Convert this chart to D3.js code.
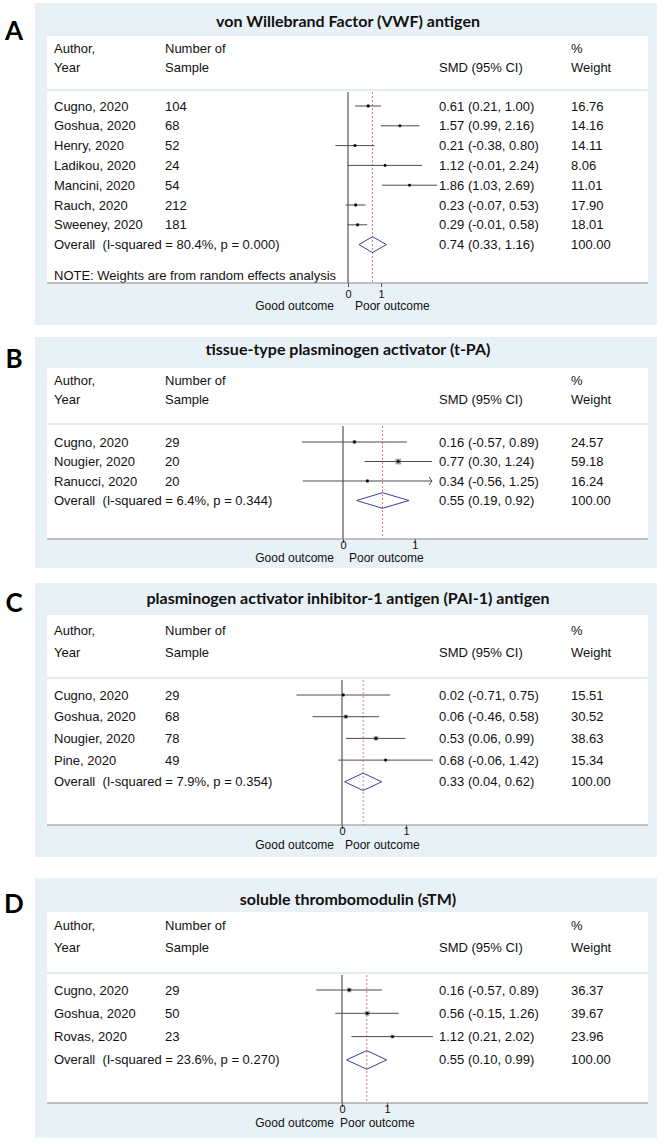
<!DOCTYPE html>
<html><head><meta charset="utf-8">
<script src="https://cdn.jsdelivr.net/npm/d3@7"></script>
<style>
body{margin:0;background:#fff}
</style>
</head><body>
<svg id="chart" width="664" height="1144"></svg>
<script>
// ---------- DATA ----------
// Panel A: von Willebrand Factor (VWF) antigen
const vwfStudies = ["Cugno, 2020","Goshua, 2020","Henry, 2020","Ladikou, 2020","Mancini, 2020","Rauch, 2020","Sweeney, 2020"];
const vwfN   = [104, 68, 52, 24, 54, 212, 181];
const vwfSMD = [0.61, 1.57, 0.21, 1.12, 1.86, 0.23, 0.29];
const vwfLo  = [0.21, 0.99, -0.38, -0.01, 1.03, -0.07, -0.01];
const vwfHi  = [1.00, 2.16, 0.80, 2.24, 2.69, 0.53, 0.58];
const vwfW   = [16.76, 14.16, 14.11, 8.06, 11.01, 17.90, 18.01];
const vwfOverall = [0.74, 0.33, 1.16];
const vwfHet = "80.4%";  const vwfP = "0.000";
const vwfXLim = [-2.69, 2.69];

// Panel B: tissue-type plasminogen activator (t-PA)
const tpaStudies = ["Cugno, 2020","Nougier, 2020","Ranucci, 2020"];
const tpaN   = [29, 20, 20];
const tpaSMD = [0.16, 0.77, 0.34];
const tpaLo  = [-0.57, 0.30, -0.56];
const tpaHi  = [0.89, 1.24, 1.25];
const tpaW   = [24.57, 59.18, 16.24];
const tpaOverall = [0.55, 0.19, 0.92];
const tpaHet = "6.4%";  const tpaP = "0.344";
const tpaXLim = [-1.24, 1.24];

// Panel C: plasminogen activator inhibitor-1 antigen (PAI-1) antigen
const paiStudies = ["Cugno, 2020","Goshua, 2020","Nougier, 2020","Pine, 2020"];
const paiN   = [29, 68, 78, 49];
const paiSMD = [0.02, 0.06, 0.53, 0.68];
const paiLo  = [-0.71, -0.46, 0.06, -0.06];
const paiHi  = [0.75, 0.58, 0.99, 1.42];
const paiW   = [15.51, 30.52, 38.63, 15.34];
const paiOverall = [0.33, 0.04, 0.62];
const paiHet = "7.9%";  const paiP = "0.354";
const paiXLim = [-1.42, 1.42];

// Panel D: soluble thrombomodulin (sTM)
const stmStudies = ["Cugno, 2020","Goshua, 2020","Rovas, 2020"];
const stmN   = [29, 50, 23];
const stmSMD = [0.16, 0.56, 1.12];
const stmLo  = [-0.57, -0.15, 0.21];
const stmHi  = [0.89, 1.26, 2.02];
const stmW   = [36.37, 39.67, 23.96];
const stmOverall = [0.55, 0.10, 0.99];
const stmHet = "23.6%";  const stmP = "0.270";
const stmXLim = [-2.02, 2.02];

const tickValues = [0, 1];
const headerLine1 = ["Author,", "Number of", "", "%"];
const headerLine2 = ["Year", "Sample", "SMD (95% CI)", "Weight"];
const outcomeLabels = ["Good outcome", "Poor outcome"];
const noteText = "NOTE: Weights are from random effects analysis";

// ---------- PANELS (data + layout) ----------
const panels = [
  {label:"A", title:"von Willebrand Factor (VWF) antigen",
   studies:vwfStudies, n:vwfN, est:vwfSMD, lo:vwfLo, hi:vwfHi, w:vwfW, overall:vwfOverall, het:vwfHet, p:vwfP, xlim:vwfXLim, note:true,
   L:{labelY:31, bgTop:3, bgBot:325, whiteTop:36, titleY:21, axisY:283, h1:48, h2:67, sep:90, row0:106, step:19.8, xr:[259,437], tickDy:11, outDy:23, poorX:355}},
  {label:"B", title:"tissue-type plasminogen activator (t-PA)",
   studies:tpaStudies, n:tpaN, est:tpaSMD, lo:tpaLo, hi:tpaHi, w:tpaW, overall:tpaOverall, het:tpaHet, p:tpaP, xlim:tpaXLim, note:false,
   L:{labelY:359, bgTop:337, bgBot:568, whiteTop:368, titleY:349, axisY:539, h1:380, h2:399, sep:424, row0:442, step:19.5, xr:[254,432], tickDy:6, outDy:19, poorX:349}},
  {label:"C", title:"plasminogen activator inhibitor-1 antigen (PAI-1) antigen",
   studies:paiStudies, n:paiN, est:paiSMD, lo:paiLo, hi:paiHi, w:paiW, overall:paiOverall, het:paiHet, p:paiP, xlim:paiXLim, note:false,
   L:{labelY:603, bgTop:583, bgBot:857, whiteTop:615, titleY:598, axisY:825, h1:630, h2:652, sep:678, row0:695, step:21.7, xr:[251,433], tickDy:6, outDy:20, poorX:345}},
  {label:"D", title:"soluble thrombomodulin (sTM)",
   studies:stmStudies, n:stmN, est:stmSMD, lo:stmLo, hi:stmHi, w:stmW, overall:stmOverall, het:stmHet, p:stmP, xlim:stmXLim, note:false,
   L:{labelY:904, bgTop:878, bgBot:1138, whiteTop:912, titleY:899, axisY:1103, h1:925, h2:947, sep:973, row0:990, step:23.3, xr:[251,433], tickDy:6, outDy:20, poorX:340}}
];

const svg = d3.select("#chart");
const BODY_FONT = "'Liberation Sans', Arial, Helvetica, sans-serif";
const TITLE_FONT = "Lato, 'Open Sans', sans-serif";
const BG = "#e8f1f5";
const boxL = 35, boxR = 657, whiteL = 47, whiteR = 648;
const colX = [54, 165, 439, 571];
const goodEnd = 334;
const f2 = v => v.toFixed(2);
const FS = "13px";

panels.forEach(P => {
  const L = P.L;
  const g = svg.append("g").attr("font-family", BODY_FONT).attr("fill", "#111");
  const x = d3.scaleLinear().domain(P.xlim).range(L.xr);
  const y = i => L.row0 + i * L.step;
  const txt = (xx, yy, t, size) => g.append("text").attr("x", xx).attr("y", yy).attr("dy", "0.35em")
      .attr("font-family", BODY_FONT).attr("font-size", size || FS).attr("fill", "#111").text(t);

  // background
  g.append("rect").attr("x", boxL).attr("y", L.bgTop).attr("width", boxR - boxL).attr("height", L.bgBot - L.bgTop).attr("fill", BG);
  g.append("rect").attr("x", whiteL).attr("y", L.whiteTop).attr("width", whiteR - whiteL).attr("height", L.axisY - L.whiteTop).attr("fill", "#fff");
  g.append("line").attr("x1", whiteL).attr("x2", whiteR).attr("y1", L.sep).attr("y2", L.sep).attr("stroke", "#e3ecf0").attr("stroke-width", 2);

  // panel letter + title
  g.append("text").attr("x", 14).attr("y", L.labelY).attr("dy", "0.35em").attr("text-anchor", "middle")
    .attr("font-family", TITLE_FONT).attr("font-weight", "bold").attr("font-size", "26px").attr("fill", "#000").text(P.label);
  g.append("text").attr("x", (boxL + boxR) / 2 + 2).attr("y", L.titleY).attr("dy", "0.35em").attr("text-anchor", "middle")
    .attr("font-family", TITLE_FONT).attr("font-weight", "bold").attr("font-size", "16px").attr("fill", "#111").text(P.title);

  // header
  headerLine1.forEach((t, i) => { if (t) txt(colX[i], L.h1, t); });
  headerLine2.forEach((t, i) => { if (t) txt(colX[i], L.h2, t); });

  const k = P.studies.length;
  const rows = P.studies.map((s, i) => ({s, n:P.n[i], est:P.est[i], lo:P.lo[i], hi:P.hi[i], w:P.w[i], i}));

  // reference lines
  const lineTop = L.sep + 2;
  g.append("line").attr("x1", x(0)).attr("x2", x(0)).attr("y1", lineTop).attr("y2", L.axisY).attr("stroke", "#333").attr("stroke-width", 1);
  g.append("line").attr("x1", x(P.overall[0])).attr("x2", x(P.overall[0])).attr("y1", lineTop).attr("y2", L.axisY)
    .attr("stroke", "#c9605f").attr("stroke-width", 0.8).attr("stroke-dasharray", "2,2");

  // study rows
  rows.forEach(r => {
    const yy = y(r.i);
    txt(colX[0], yy, r.s);
    txt(colX[1], yy, r.n);
    txt(colX[2], yy, `${f2(r.est)} (${f2(r.lo)}, ${f2(r.hi)})`);
    txt(colX[3], yy, f2(r.w));

    const hiC = Math.min(r.hi, P.xlim[1]), loC = Math.max(r.lo, P.xlim[0]);
    const side = 0.75 * Math.sqrt(r.w);
    g.append("rect").attr("x", x(r.est) - side / 2).attr("y", yy - side / 2).attr("width", side).attr("height", side).attr("fill", "#a8a8a8");
    g.append("line").attr("x1", x(loC)).attr("x2", x(hiC)).attr("y1", yy).attr("y2", yy).attr("stroke", "#4a4a4a").attr("stroke-width", 1);
    g.append("circle").attr("cx", x(r.est)).attr("cy", yy).attr("r", 1.4).attr("fill", "#000");
    if (r.hi > P.xlim[1]) {
      const ex = x(P.xlim[1]);
      g.append("path").attr("d", `M${ex - 3},${yy - 4} L${ex},${yy} L${ex - 3},${yy + 4}`).attr("fill", "none").attr("stroke", "#4a4a4a").attr("stroke-width", 1);
    }
  });

  // overall
  const oy = y(k);
  const dh = 0.4 * L.step;
  txt(colX[0], oy, `Overall  (I-squared = ${P.het}, p = ${P.p})`).attr("xml:space", "preserve").style("white-space", "pre");
  txt(colX[2], oy, `${f2(P.overall[0])} (${f2(P.overall[1])}, ${f2(P.overall[2])})`);
  txt(colX[3], oy, f2(100));
  g.append("path").attr("d", `M${x(P.overall[1])},${oy} L${x(P.overall[0])},${oy - dh} L${x(P.overall[2])},${oy} L${x(P.overall[0])},${oy + dh} Z`)
    .attr("fill", "none").attr("stroke", "#3b3f96").attr("stroke-width", 1);

  if (P.note) txt(colX[0], L.axisY - 8, noteText);

  // axis line (bottom edge of plot box) + ticks
  g.append("line").attr("x1", whiteL).attr("x2", whiteR).attr("y1", L.axisY).attr("y2", L.axisY).attr("stroke", "#8a8a8a").attr("stroke-width", 1.2);
  const ax = g.append("g").attr("transform", `translate(0,${L.axisY})`)
    .call(d3.axisBottom(x).tickValues(tickValues).tickSize(4).tickFormat(d3.format("d")));
  ax.select(".domain").remove();
  ax.selectAll(".tick line").attr("stroke", "#555");
  ax.selectAll(".tick text").attr("y", L.tickDy).attr("dy", "0.35em").attr("font-size", "11px").attr("font-family", BODY_FONT).attr("fill", "#111");

  // outcome labels
  txt(goodEnd, L.axisY + L.outDy, outcomeLabels[0], "12px").attr("text-anchor", "end");
  txt(L.poorX, L.axisY + L.outDy, outcomeLabels[1], "12px");
});
</script>
</body></html>
